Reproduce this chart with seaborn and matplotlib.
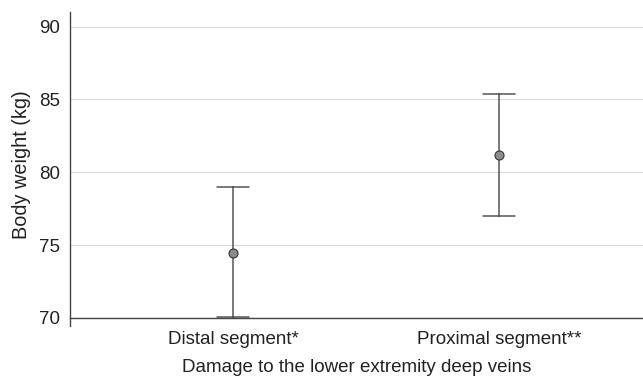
import numpy as np
import pandas as pd
import matplotlib.pyplot as plt
import seaborn as sns

# ------------------------
# DATA (mean with lower / upper bounds)
# ------------------------
groups = ["Distal segment*", "Proximal segment**"]
means = [74.45, 81.2]
lower = [70.1, 77.0]
upper = [79.0, 85.4]

# long table: one row per bound, median picks the mean, min/max give the bar
rows = []
for g, lo, m, hi in zip(groups, lower, means, upper):
    for v in (lo, m, hi):
        rows.append({"group": g, "weight": v})
df = pd.DataFrame(rows)

# ------------------------
# PLOT
# ------------------------
sns.set_style("white")
plt.rcParams["font.family"] = ["Liberation Sans", "DejaVu Sans"]

fig = plt.figure(figsize=(6.43, 3.83), dpi=100)
ax = fig.add_axes([70 / 643, 1 - 318 / 383, 1 - 70 / 643, (318 - 12) / 383])

sns.pointplot(
    data=df, x="group", y="weight", order=groups,
    estimator=np.median,
    errorbar=lambda x: (np.min(x), np.max(x)),
    linestyle="none", capsize=0.12,
    color="#555555", err_kws={"linewidth": 1.1},
    marker="o", markersize=6.5,
    ax=ax,
)
# lighter point fill with a dark rim
for ln in ax.lines:
    if ln.get_marker() == "o":
        ln.set_markerfacecolor("#8c8c8c")
        ln.set_markeredgecolor("#333333")
        ln.set_markeredgewidth(0.8)
        ln.set_zorder(5)

ax.set_xlim(-0.613, 1.54)
ax.set_ylim(70, 91)
ax.set_yticks([70, 75, 80, 85, 90])
ax.yaxis.grid(True, color="#d9d9d9", linewidth=0.9)
ax.set_axisbelow(True)

for side in ("top", "right"):
    ax.spines[side].set_visible(False)
for side in ("left", "bottom"):
    ax.spines[side].set_color("#444444")
    ax.spines[side].set_linewidth(1.0)
ax.spines["left"].set_bounds(69.45, 91)

ax.tick_params(axis="both", length=0, labelsize=13.5, colors="#222222", pad=7)
ax.tick_params(axis="x", pad=9)
ax.set_ylabel("Body weight (kg)", fontsize=14.3, color="#222222", labelpad=6)
ax.set_xlabel("Damage to the lower extremity deep veins", fontsize=13.5,
              color="#222222", labelpad=8.5)

fig.savefig("out.png", dpi=100)
